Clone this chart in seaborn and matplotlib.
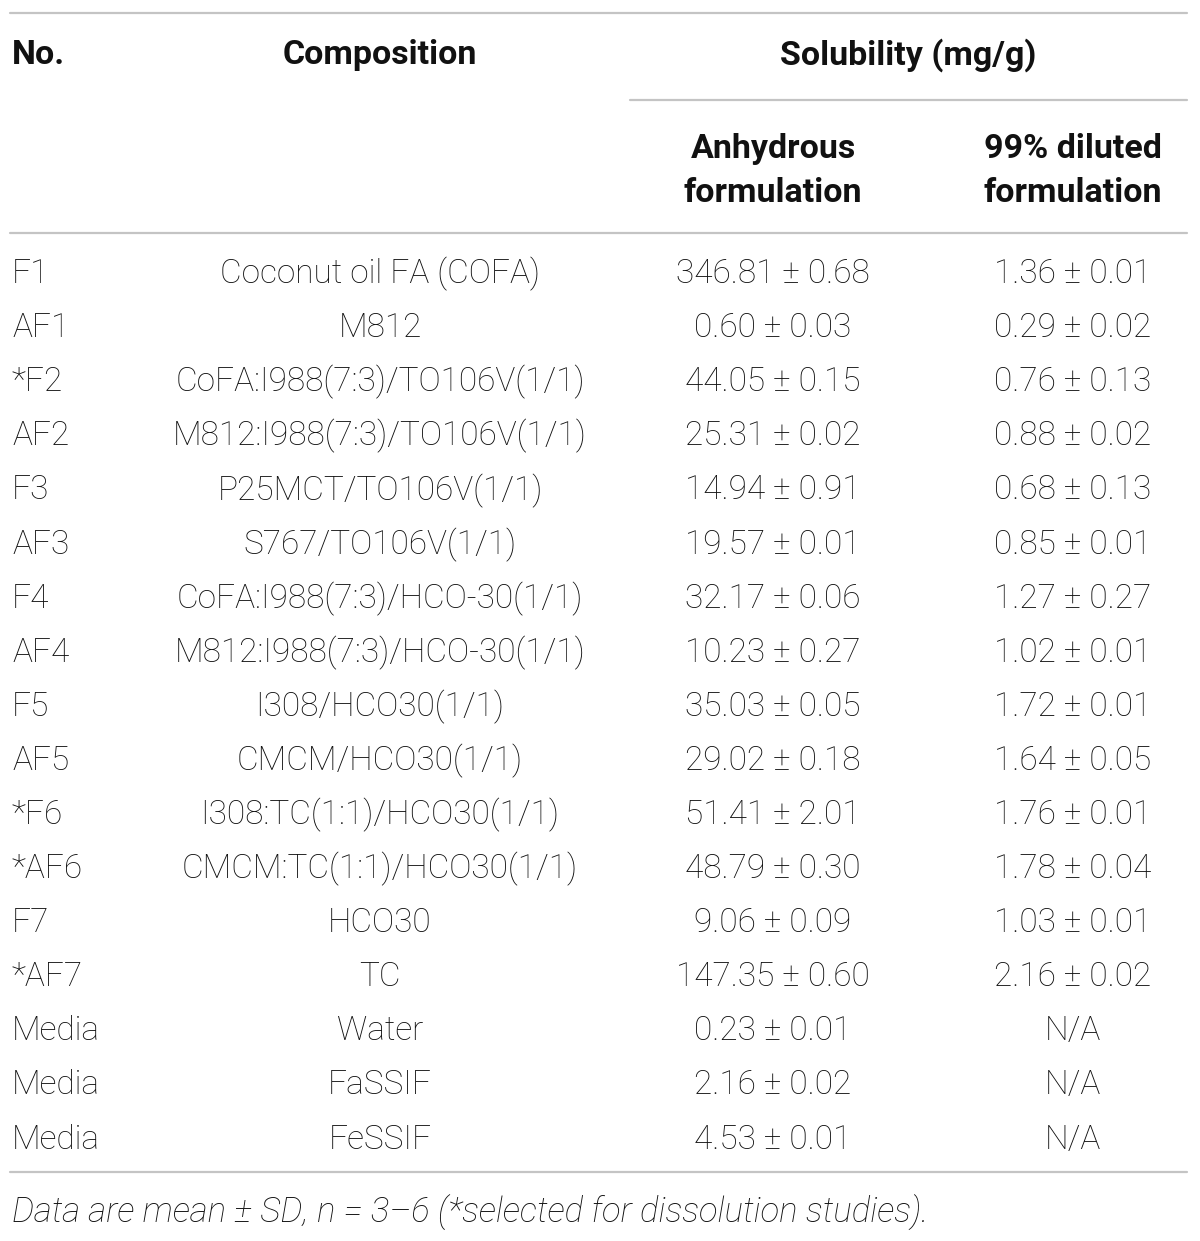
import numpy as np
import pandas as pd
import matplotlib.pyplot as plt
import seaborn as sns

numbers = ["F1", "AF1", "*F2", "AF2", "F3", "AF3", "F4", "AF4", "F5", "AF5",
           "*F6", "*AF6", "F7", "*AF7", "Media", "Media", "Media"]
composition = ["Coconut oil FA (COFA)", "M812", "CoFA:I988(7:3)/TO106V(1/1)",
               "M812:I988(7:3)/TO106V(1/1)", "P25MCT/TO106V(1/1)", "S767/TO106V(1/1)",
               "CoFA:I988(7:3)/HCO-30(1/1)", "M812:I988(7:3)/HCO-30(1/1)", "I308/HCO30(1/1)",
               "CMCM/HCO30(1/1)", "I308:TC(1:1)/HCO30(1/1)", "CMCM:TC(1:1)/HCO30(1/1)",
               "HCO30", "TC", "Water", "FaSSIF", "FeSSIF"]
anhydrous = ["346.81 ± 0.68", "0.60 ± 0.03", "44.05 ± 0.15", "25.31 ± 0.02", "14.94 ± 0.91",
             "19.57 ± 0.01", "32.17 ± 0.06", "10.23 ± 0.27", "35.03 ± 0.05", "29.02 ± 0.18",
             "51.41 ± 2.01", "48.79 ± 0.30", "9.06 ± 0.09", "147.35 ± 0.60", "0.23 ± 0.01",
             "2.16 ± 0.02", "4.53 ± 0.01"]
diluted = ["1.36 ± 0.01", "0.29 ± 0.02", "0.76 ± 0.13", "0.88 ± 0.02", "0.68 ± 0.13",
           "0.85 ± 0.01", "1.27 ± 0.27", "1.02 ± 0.01", "1.72 ± 0.01", "1.64 ± 0.05",
           "1.76 ± 0.01", "1.78 ± 0.04", "1.03 ± 0.01", "2.16 ± 0.02", "N/A", "N/A", "N/A"]
headers = ["No.", "Composition", "Solubility (mg/g)"]
subheaders = ["Anhydrous\nformulation", "99% diluted\nformulation"]
footnote = "Data are mean ± SD, n = 3–6 (*selected for dissolution studies)."

df = pd.DataFrame({"no": numbers, "comp": composition, "anh": anhydrous, "dil": diluted})

sns.set_theme(style="white")
plt.rcParams["font.family"] = ["Roboto", "DejaVu Sans"]

fig = plt.figure(figsize=(12, 12.41), dpi=100)
ax = fig.add_axes([0, 0, 1, 1])
ax.set_xlim(0, 1200)
ax.set_ylim(1241, 0)
ax.axis("off")

txt = "#111111"
line_c = "#c4c4c4"
fs = 24
hfs = 24.5

# rules
for y, x0, x1 in [(13, 10, 1187), (100, 630, 1187), (233, 10, 1187), (1172, 10, 1187)]:
    ax.plot([x0, x1], [y, y], color=line_c, lw=1.6)

# headers
ax.text(12, 55, headers[0], ha="left", va="center", fontsize=hfs, fontweight="bold", color=txt)
ax.text(380, 55, headers[1], ha="center", va="center", fontsize=hfs, fontweight="bold", color=txt)
ax.text(908, 55, headers[2], ha="center", va="center", fontsize=hfs, fontweight="bold", color=txt)
for x, s in zip([773, 1073], subheaders):
    ax.text(x, 171, s, ha="center", va="center", fontsize=hfs, fontweight="bold",
            color=txt, linespacing=1.5)

# body rows
row_y = 274 + np.arange(len(df)) * 54.1
for y, (_, r) in zip(row_y, df.iterrows()):
    ax.text(12, y, r["no"], ha="left", va="center", fontsize=fs, fontweight="light", color=txt)
    ax.text(380, y, r["comp"], ha="center", va="center", fontsize=fs, fontweight="light", color=txt)
    ax.text(773, y, r["anh"], ha="center", va="center", fontsize=fs, fontweight="light", color=txt)
    ax.text(1073, y, r["dil"], ha="center", va="center", fontsize=fs, fontweight="light", color=txt)

ax.text(12, 1213, footnote, ha="left", va="center", fontsize=25, fontweight="light",
        style="italic", color=txt)

fig.savefig("out.png", dpi=100)
